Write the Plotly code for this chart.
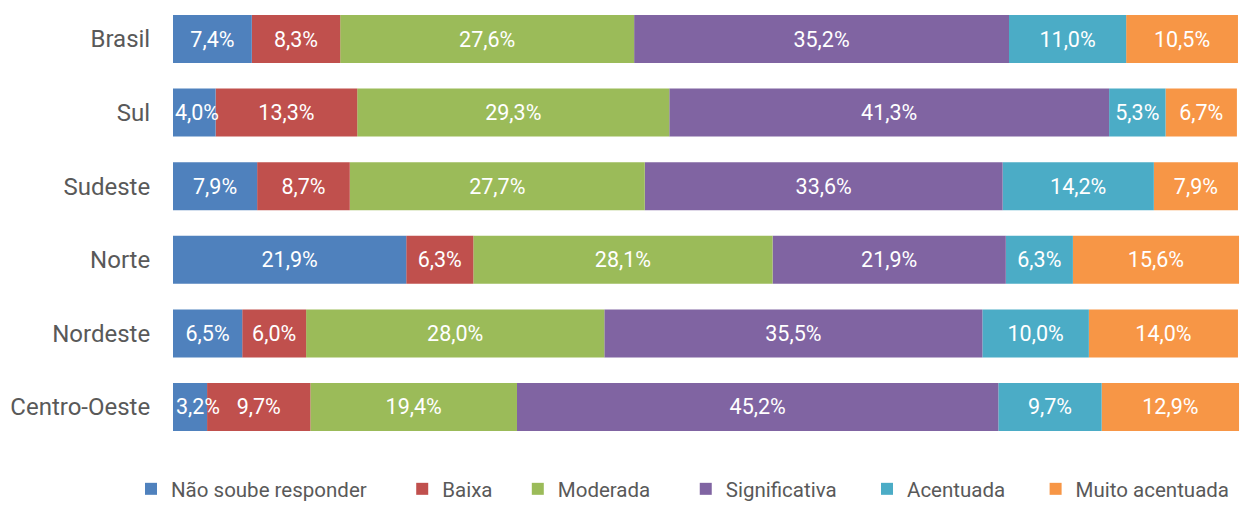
import plotly.graph_objects as go

regioes = ["Brasil", "Sul", "Sudeste", "Norte", "Nordeste", "Centro-Oeste"]
series = ["Não soube responder", "Baixa", "Moderada", "Significativa", "Acentuada", "Muito acentuada"]
nao_soube = [7.4, 4.0, 7.9, 21.9, 6.5, 3.2]
baixa = [8.3, 13.3, 8.7, 6.3, 6.0, 9.7]
moderada = [27.6, 29.3, 27.7, 28.1, 28.0, 19.4]
significativa = [35.2, 41.3, 33.6, 21.9, 35.5, 45.2]
acentuada = [11.0, 5.3, 14.2, 6.3, 10.0, 9.7]
muito_acentuada = [10.5, 6.7, 7.9, 15.6, 14.0, 12.9]
valores = [nao_soube, baixa, moderada, significativa, acentuada, muito_acentuada]
cores = ["#4F81BD", "#C0504D", "#9BBB59", "#8064A2", "#4BACC6", "#F79646"]
legend_pad = [6, 4, 6, 5, 5, 0]  # spacing after each legend entry


def rotulo(v):
    s = f"{v:.1f}%".replace(".", ",")
    # labels wider than their bar start near the bar's left edge
    if v < 3.5:
        s = "\u00a0" * 3 + s
    elif v < 4.5:
        s = "\u00a0" + s
    return s


# stacking bases (cumulative sums), so that traces can be drawn right-to-left
bases = []
acum = [0.0] * len(regioes)
for vals in valores:
    bases.append(list(acum))
    acum = [a + v for a, v in zip(acum, vals)]

W, H = 1241, 509
fig = go.Figure()
for nome, vals, cor, p, base in reversed(list(zip(series, valores, cores, legend_pad, bases))):
    fig.add_trace(go.Bar(
        y=regioes, x=vals, base=base, name=nome + "\u00a0" * p, orientation="h",
        marker=dict(color=cor, line=dict(width=0)),
        text=[rotulo(v) for v in vals],
        textposition="inside", insidetextanchor="middle",
        constraintext="none", textangle=0, cliponaxis=False,
        textfont=dict(color="white", size=21.5, family="Roboto"),
        hoverinfo="skip",
    ))

fig.update_layout(
    width=W, height=H,
    barmode="overlay", bargap=0.348,
    margin=dict(l=0, r=0, t=0, b=0),
    paper_bgcolor="white", plot_bgcolor="white",
    font=dict(family="Roboto", color="#595959"),
    showlegend=True,
    legend=dict(orientation="h", x=131 / W, xanchor="left", y=0, yanchor="bottom",
                font=dict(size=20.5, color="#595959"), traceorder="reversed",
                itemwidth=30),
)
fig.update_xaxes(range=[0, 100.2], visible=False, fixedrange=True,
                 domain=[173 / W, 1240.1 / W])
fig.update_yaxes(range=[5.503, -0.53], showgrid=False, showline=False, automargin=False,
                 domain=[(H - 444) / H, 1.0], fixedrange=True,
                 ticks="outside", ticklen=17, tickcolor="rgba(0,0,0,0)",
                 tickfont=dict(size=24, color="#595959", family="Roboto"))

fig.write_html("out.html", config={"displayModeBar": False},
               post_script="document.body.style.margin='0';document.body.style.overflow='hidden';")
